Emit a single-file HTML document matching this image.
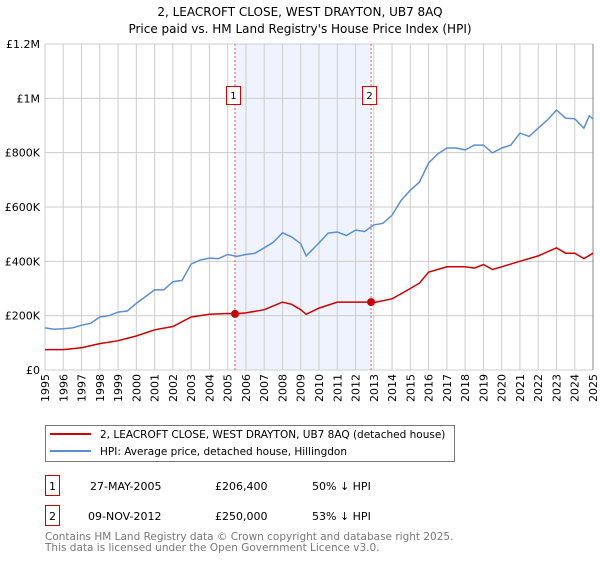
<!DOCTYPE html>
<html><head><meta charset="utf-8"><style>
body{margin:0;background:#fff;font-family:"DejaVu Sans","Liberation Sans",sans-serif;}
svg text{font-family:"DejaVu Sans","Liberation Sans",sans-serif;}
</style></head><body>
<svg id="c" width="600" height="560" viewBox="0 0 600 560" xmlns="http://www.w3.org/2000/svg">
<text x="300" y="16" text-anchor="middle" font-size="12">2, LEACROFT CLOSE, WEST DRAYTON, UB7 8AQ</text>
<text x="300" y="33" text-anchor="middle" font-size="12">Price paid vs. HM Land Registry's House Price Index (HPI)</text>
<g id="plot"></g>
<g>
<rect x="45.5" y="425.5" width="409" height="36" fill="#fff" stroke="#777"/>
<line x1="50" y1="434" x2="91" y2="434" stroke="#cc0000" stroke-width="2"/>
<text x="100" y="438" font-size="10.5">2, LEACROFT CLOSE, WEST DRAYTON, UB7 8AQ (detached house)</text>
<line x1="50" y1="451" x2="91" y2="451" stroke="#5b8fd1" stroke-width="2"/>
<text x="100" y="455" font-size="10.5">HPI: Average price, detached house, Hillingdon</text>
</g>
<g font-size="11">
<rect x="45.5" y="475.5" width="14" height="20" fill="none" stroke="#cc0000"/>
<text x="52.5" y="490" text-anchor="middle">1</text>
<text x="90" y="490">27-MAY-2005</text><text x="215" y="490">£206,400</text><text x="312" y="490">50% ↓ HPI</text>
<rect x="45.5" y="505.5" width="14" height="20" fill="none" stroke="#cc0000"/>
<text x="52.5" y="520" text-anchor="middle">2</text>
<text x="88" y="520">09-NOV-2012</text><text x="215" y="520">£250,000</text><text x="312" y="520">53% ↓ HPI</text>
</g>
<text x="45" y="540" font-size="10.5" fill="#777">Contains HM Land Registry data © Crown copyright and database right 2025.</text>
<text x="45" y="551" font-size="10.5" fill="#777">This data is licensed under the Open Government Licence v3.0.</text>
</svg>
<script>
const hpiYears=[1995,1995.5,1996,1996.5,1997,1997.5,1998,1998.5,1999,1999.5,2000,2000.5,2001,2001.5,2002,2002.5,2003,2003.5,2004,2004.5,2005,2005.5,2006,2006.5,2007,2007.5,2008,2008.5,2009,2009.3,2010,2010.5,2011,2011.5,2012,2012.5,2013,2013.5,2014,2014.5,2015,2015.5,2016,2016.5,2017,2017.5,2018,2018.5,2019,2019.5,2020,2020.5,2021,2021.5,2022,2022.5,2023,2023.5,2024,2024.5,2024.8,2025];
const hpiValues=[155,150,152,155,165,172,195,200,213,217,245,270,295,295,325,330,390,405,412,410,425,418,425,430,450,470,505,490,465,420,468,504,508,495,515,510,534,540,570,625,662,692,762,795,817,817,810,828,828,799,817,828,872,860,890,920,957,927,925,890,936,924];
const ppYears=[1995,1996,1997,1998,1999,2000,2001,2002,2003,2004,2005,2005.4,2006,2007,2008,2008.5,2009,2009.3,2010,2011,2012,2012.85,2013,2014,2015,2015.5,2016,2017,2018,2018.5,2019,2019.5,2020,2021,2022,2023,2023.5,2024,2024.5,2025];
const ppValues=[75,75,82,97,108,125,148,160,195,205,208,206.4,210,222,250,242,222,205,228,250,250,250,248,262,300,320,360,380,380,375,388,370,380,400,420,450,430,430,410,430];
const saleYears=[2005.4,2012.85];
const saleValues=[206.4,250];
const saleLabels=["1","2"];
const yTicks=[0,200,400,600,800,1000,1200];
const yTickLabels=["£0","£200K","£400K","£600K","£800K","£1M","£1.2M"];
const xTicks=[1995,1996,1997,1998,1999,2000,2001,2002,2003,2004,2005,2006,2007,2008,2009,2010,2011,2012,2013,2014,2015,2016,2017,2018,2019,2020,2021,2022,2023,2024,2025];

const NS="http://www.w3.org/2000/svg";
const X0=45,X1=593,Y0=370,Y1=44;
const xs=y=>X0+(y-1995)/(2025-1995)*(X1-X0);
const ys=v=>Y0-v/1200*(Y0-Y1);
const g=document.getElementById('plot');
function mk(t,a,p){const e=document.createElementNS(NS,t);for(const k in a)e.setAttribute(k,a[k]);(p||g).appendChild(e);return e;}
const sh=mk('rect',{x:xs(saleYears[0]),y:Y1,width:xs(saleYears[1])-xs(saleYears[0]),height:Y0-Y1,fill:'#eef3fd'});


xTicks.forEach(t=>{
 const l=mk('line',{x1:xs(t),x2:xs(t),y1:Y1,y2:Y0,stroke:'#cccccc'});
 
 
 const x=xs(t)+4,y=374;
 const tx=mk('text',{x:x,y:y,'text-anchor':'end','font-size':'11',transform:'rotate(-90 '+x+' '+y+')'});
 tx.textContent=t;
 
 
});
yTicks.forEach((t,i)=>{
 const l=mk('line',{x1:X0,x2:X1,y1:ys(t),y2:ys(t),stroke:'#cccccc'});
 
 
 const tx=mk('text',{x:40,y:ys(t)+4,'text-anchor':'end','font-size':'11'});
 tx.textContent=yTickLabels[i];
 
 
});
const edge=mk('line',{x1:X1,x2:X1,y1:Y1,y2:Y0,stroke:'#888'});


saleYears.forEach((s,i)=>{
 const l=mk('line',{x1:xs(s),x2:xs(s),y1:Y1,y2:Y0,stroke:'#e06060','stroke-dasharray':'2,2'});
 
 
});
function path(xa,va,col,name){
 const d=xa.map((x,i)=>(i?'L':'M')+xs(x).toFixed(1)+','+ys(va[i]).toFixed(1)).join('');
 const p=mk('path',{d:d,fill:'none',stroke:col,'stroke-width':'1.5'});
 
 
}
path(hpiYears,hpiValues,'#5b8fd1','hpi-line');
path(ppYears,ppValues,'#cc0000','price-paid-line');
saleYears.forEach((s,i)=>{
 const c=mk('circle',{cx:xs(s),cy:ys(saleValues[i]),r:4,fill:'#cc0000'});
 
 
 const r=mk('rect',{x:xs(s)-8.5,y:86.5,width:14,height:18,fill:'#fff',stroke:'#cc0000'});
 
 
 const t=mk('text',{x:xs(s)-1.5,y:99,'text-anchor':'middle','font-size':'10'});
 t.textContent=saleLabels[i];
 
 
});
</script>
</body></html>
